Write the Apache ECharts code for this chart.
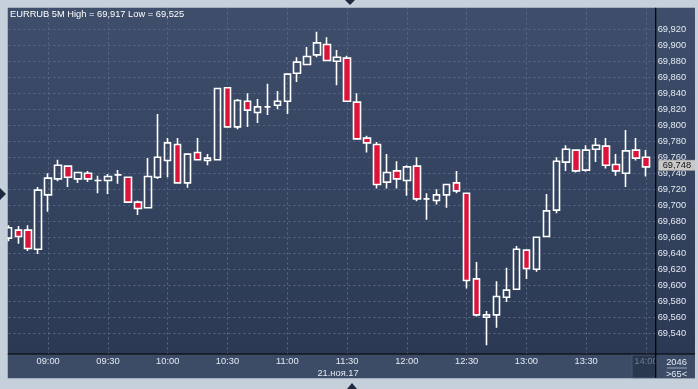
<!DOCTYPE html>
<html>
<head>
<meta charset="utf-8">
<script src="https://cdn.jsdelivr.net/npm/echarts@6/dist/echarts.min.js"></script>
<style>
html,body{margin:0;padding:0;background:#c5d0db;}
#chart{width:698px;height:389px;}
</style>
</head>
<body>
<div id="chart"></div>
<script>
const symbolName = 'EURRUB 5M';
const dateLabel = '21.ноя.17';
const counterLabel = '2046';
const times = ['08:40','08:45','08:50','08:55','09:00','09:05','09:10','09:15','09:20','09:25',
  '09:30','09:35','09:40','09:45','09:50','09:55','10:00','10:05','10:10','10:15',
  '10:20','10:25','10:30','10:35','10:40','10:45','10:50','10:55','11:00','11:05',
  '11:10','11:15','11:20','11:25','11:30','11:35','11:40','11:45','11:50','11:55',
  '12:00','12:05','12:10','12:15','12:20','12:25','12:30','12:35','12:40','12:45',
  '12:50','12:55','13:00','13:05','13:10','13:15','13:20','13:25','13:30','13:35',
  '13:40','13:45','13:50','13:55','14:00'];
const opens = [69.659,69.669,69.669,69.645,69.713,69.733,69.749,69.733,69.740,69.731,
  69.731,69.738,69.735,69.704,69.697,69.735,69.756,69.776,69.728,69.766,
  69.756,69.757,69.847,69.798,69.830,69.816,69.823,69.825,69.830,69.865,
  69.876,69.888,69.901,69.880,69.884,69.829,69.784,69.776,69.729,69.743,
  69.731,69.749,69.708,69.706,69.713,69.728,69.715,69.608,69.560,69.563,
  69.585,69.595,69.644,69.620,69.661,69.694,69.754,69.769,69.744,69.770,
  69.774,69.751,69.740,69.769,69.760];
const closes = [69.672,69.661,69.646,69.719,69.734,69.750,69.735,69.741,69.733,69.731,
  69.736,69.738,69.704,69.696,69.736,69.760,69.778,69.728,69.764,69.757,
  69.759,69.846,69.798,69.831,69.819,69.823,69.823,69.830,69.864,69.879,
  69.886,69.903,69.881,69.885,69.830,69.783,69.778,69.726,69.741,69.733,
  69.748,69.708,69.708,69.713,69.726,69.718,69.606,69.563,69.563,69.586,
  69.594,69.645,69.621,69.660,69.693,69.755,69.770,69.743,69.769,69.775,
  69.750,69.743,69.768,69.759,69.748];
const lows = [69.655,69.652,69.643,69.639,69.692,69.730,69.723,69.728,69.729,69.715,
  69.714,69.727,69.703,69.688,69.697,69.733,69.735,69.727,69.722,69.756,
  69.750,69.756,69.797,69.795,69.798,69.803,69.813,69.820,69.814,69.854,
  69.876,69.885,69.881,69.850,69.830,69.782,69.766,69.721,69.721,69.721,
  69.712,69.705,69.682,69.701,69.697,69.715,69.596,69.561,69.525,69.547,
  69.579,69.595,69.608,69.617,69.661,69.690,69.743,69.741,69.742,69.754,
  69.746,69.737,69.723,69.756,69.736];
const highs = [69.675,69.674,69.675,69.723,69.740,69.757,69.749,69.742,69.743,69.737,
  69.739,69.744,69.736,69.706,69.759,69.814,69.784,69.784,69.765,69.784,
  69.764,69.847,69.848,69.833,69.840,69.833,69.852,69.843,69.864,69.885,
  69.898,69.917,69.910,69.894,69.887,69.840,69.787,69.779,69.764,69.755,
  69.750,69.760,69.715,69.720,69.727,69.743,69.716,69.629,69.568,69.605,
  69.622,69.649,69.644,69.661,69.714,69.760,69.775,69.769,69.775,69.784,
  69.784,69.764,69.794,69.784,69.769];
const tickLabels = ['09:00','09:30','10:00','10:30','11:00','11:30','12:00','12:30','13:00','13:30','14:00'];

const FONT = '"Liberation Sans", Arial, sans-serif';
const FS = 9.3;
const fmt = v => v.toFixed(3).replace('.', ',');
// slot = number of 5-minute bars since 08:00
const slotOf = t => { const [h, m] = t.split(':').map(Number); return (h * 60 + m - 480) / 5; };
const timeOf = s => { const mins = 480 + s * 5; const h = Math.floor(mins / 60), m = mins % 60; return String(h).padStart(2,'0') + ':' + String(m).padStart(2,'0'); };

const candles = times.map((t, i) => [slotOf(t), opens[i], closes[i], lows[i], highs[i]]);
const hi = Math.max(...highs), lo = Math.min(...lows);
const lastPrice = closes[closes.length - 1];
const lastSlot = slotOf(times[times.length - 1]);

const XMIN = 6, XMAX = 72.98, GL = -11.63, GR = 42.3;
const gridLine = { show: true, lineStyle: { color: '#5a6a86', type: [2, 3], width: 1 } };

const chart = echarts.init(document.getElementById('chart'), null, { renderer: 'canvas' });
chart.setOption({
  animation: false,
  backgroundColor: '#c5d0db',
  title: {
    text: symbolName + ' High = ' + fmt(hi) + ' Low = ' + fmt(lo),
    left: 10, top: 10, padding: 0,
    textStyle: { color: '#ffffff', fontSize: FS, fontWeight: 'normal', fontFamily: FONT }
  },
  grid: [
    { left: GL, right: GR, top: 13.3, bottom: 39.7, containLabel: false, outerBoundsMode: 'none' },
    { left: GL, right: GR, top: 7.5, bottom: 35, containLabel: false, outerBoundsMode: 'none' }
  ],
  xAxis: [
    { type: 'value', gridIndex: 0, min: XMIN, max: XMAX, interval: 6, show: false, splitLine: { show: false } },
    { type: 'value', gridIndex: 1, min: XMIN, max: XMAX, interval: 6, position: 'bottom',
      axisLine: { show: false }, axisTick: { show: false },
      splitLine: gridLine,
      axisLabel: {
        margin: 3, fontSize: FS, fontFamily: FONT, hideOverlap: false,
        color: (v) => (timeOf(v) === '14:00' ? '#6f7d94' : '#e4eaf3'),
        formatter: (v) => { if (Math.abs(v - Math.round(v)) > 1e-6) return ''; const t = timeOf(Math.round(v)); return tickLabels.includes(t) ? t : ''; }
      }
    }
  ],
  yAxis: [
    { type: 'value', gridIndex: 0, position: 'right', min: 69.52, max: 69.94, interval: 0.02,
      axisLine: { show: false }, axisTick: { show: false },
      splitLine: Object.assign({ showMinLine: false, showMaxLine: false }, gridLine),
      axisLabel: {
        margin: 2, fontSize: FS, fontFamily: FONT, color: '#e4eaf3', align: 'left', hideOverlap: false,
        formatter: (v) => (v > 69.535 && v < 69.925 ? fmt(v) : '')
      }
    },
    { type: 'value', gridIndex: 1, min: 0, max: 1, show: false, splitLine: { show: false } }
  ],
  series: [{
    type: 'candlestick',
    xAxisIndex: 0, yAxisIndex: 0,
    data: candles,
    encode: { x: 0, y: [1, 2, 3, 4] },
    barWidth: 7,
    itemStyle: {
      color: 'rgba(0,0,0,0)', color0: '#dc143c',
      borderColor: '#ffffff', borderColor0: '#ffffff', borderWidth: 1.6
    }
  }, {
    type: 'line',
    xAxisIndex: 0, yAxisIndex: 0,
    data: [[lastSlot, lastPrice]],
    showSymbol: false, symbol: 'none',
    z: 20,
    clip: false,
    markLine: {
      silent: true, symbol: ['none', 'none'], clip: false,
      lineStyle: { color: 'rgba(0,0,0,0)', width: 1, type: 'solid' },
      label: {
        show: true, position: 'end', distance: 3, formatter: fmt(lastPrice),
        color: '#111111', backgroundColor: '#c8c8c8', borderColor: '#8a8a8a', borderWidth: 0.5,
        padding: [1, 4, 0, 4], fontSize: FS, fontFamily: FONT, opacity: 1
      },
      emphasis: { disabled: true },
      data: [{ yAxis: lastPrice }]
    }
  }],
  graphic: { elements: [
    { type: 'rect', z: -10, shape: { x: 7.5, y: 7.5, width: 688, height: 347 },
      style: { fill: new echarts.graphic.LinearGradient(0, 0, 0, 1, [{ offset: 0, color: '#3e4e6b' }, { offset: 1, color: '#2b3954' }]) } },
    { type: 'rect', z: -10, shape: { x: 7.5, y: 354, width: 688, height: 24.5 }, style: { fill: '#3c4b66' } },
    { type: 'rect', z: -5, shape: { x: 632, y: 355, width: 23.5, height: 23 }, style: { fill: '#29374f', stroke: '#4a5873', lineWidth: 1 } },
    { type: 'rect', z: 50, shape: { x: 656.3, y: 354.5, width: 39, height: 24 }, style: { fill: '#3c4b66' } },
    { type: 'line', z: 60, shape: { x1: 655.7, y1: 7.5, x2: 655.7, y2: 378 }, style: { stroke: '#000', lineWidth: 1.2 } },
    { type: 'line', z: 60, shape: { x1: 7.5, y1: 354, x2: 695, y2: 354 }, style: { stroke: '#000', lineWidth: 1.2 } },
    { type: 'text', z: 51, x: 338, y: 373.5, style: { text: dateLabel, fill: '#e4eaf3', font: FS + 'px ' + FONT, textAlign: 'center', textVerticalAlign: 'middle' } },
    { type: 'text', z: 51, x: 676.5, y: 362.3, style: { text: counterLabel, fill: '#e4eaf3', font: FS + 'px ' + FONT, textAlign: 'center', textVerticalAlign: 'middle' } },
    { type: 'line', z: 51, shape: { x1: 667, y1: 368, x2: 687, y2: 368 }, style: { stroke: '#9aa6b8', lineWidth: 1 } },
    { type: 'text', z: 51, x: 676.5, y: 374.3, style: { text: '>' + times.length + '<', fill: '#e4eaf3', font: FS + 'px ' + FONT, textAlign: 'center', textVerticalAlign: 'middle' } },
    { type: 'rect', z: 100, shape: { x: 0, y: 0, width: 7.5, height: 389 }, style: { fill: '#c5d0db' } },
    { type: 'rect', z: 100, shape: { x: 0, y: 0, width: 698, height: 7.5 }, style: { fill: '#c5d0db' } },
    { type: 'rect', z: 100, shape: { x: 695, y: 0, width: 3, height: 389 }, style: { fill: '#c5d0db' } },
    { type: 'rect', z: 100, shape: { x: 0, y: 378.5, width: 698, height: 10.5 }, style: { fill: '#c5d0db' } },
    { type: 'polygon', z: 101, shape: { points: [[345, 0], [355, 0], [350, 5]] }, style: { fill: '#1e2a3e' } },
    { type: 'polygon', z: 101, shape: { points: [[347, 389], [357, 389], [352, 383]] }, style: { fill: '#1e2a3e' } },
    { type: 'polygon', z: 101, shape: { points: [[0, 188], [0, 200], [6, 194]] }, style: { fill: '#1e2a3e' } }
  ] }
});
</script>
</body>
</html>
